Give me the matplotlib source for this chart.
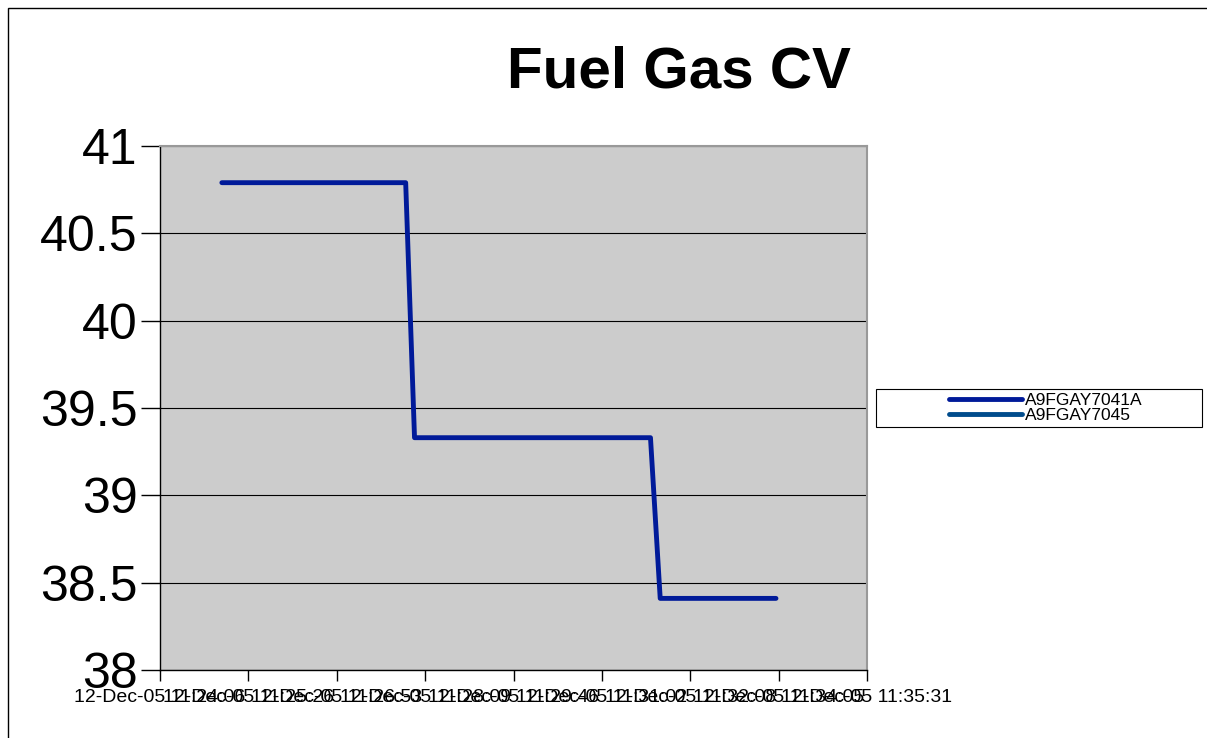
import matplotlib
matplotlib.use("Agg")
import matplotlib.pyplot as plt
from matplotlib.patches import Rectangle

plt.rcParams['font.family'] = ['Liberation Sans', 'DejaVu Sans']

# positions in category units (0 = first tick)
x_7041a = [0.70, 2.78, 2.88, 5.55, 5.66, 6.97]
y_7041a = [40.79, 40.79, 39.33, 39.33, 38.41, 38.41]
x_7045 = []
y_7045 = []
tick_labels = ["12-Dec-05 11:24:06", "12-Dec-05 11:25:26", "12-Dec-05 11:26:53",
               "12-Dec-05 11:28:09", "12-Dec-05 11:29:46", "12-Dec-05 11:31:02",
               "12-Dec-05 11:32:08", "12-Dec-05 11:34:05", "12-Dec-05 11:35:31"]
y_ticks = [38, 38.5, 39, 39.5, 40, 40.5, 41]

fig = plt.figure(figsize=(12.07, 7.38), dpi=100)
ax = fig.add_axes([160/1207, 1 - 670/738, 707/1207, 524/738])
ax.set_facecolor('#CCCCCC')

ax.plot(x_7041a, y_7041a, color='#001A99', lw=3.5, solid_capstyle='round',
        solid_joinstyle='round', label='A9FGAY7041A')
ax.plot(x_7045, y_7045, color='#004C8C', lw=3.5, solid_capstyle='round',
        label='A9FGAY7045')

ax.set_xlim(0, 8)
ax.set_ylim(38, 41)
ax.set_xticks(range(9))
ax.set_xticklabels(tick_labels, fontsize=14)
ax.set_yticks(y_ticks)
ax.set_yticklabels(['38', '38.5', '39', '39.5', '40', '40.5', '41'], fontsize=36)
ax.yaxis.grid(True, color='black', lw=0.8)
ax.set_axisbelow(True)
ax.tick_params(axis='y', length=14, width=1, pad=2)
ax.tick_params(axis='x', length=8, width=1, pad=6)

for s in ['top', 'right']:
    ax.spines[s].set_color('#999999')
    ax.spines[s].set_linewidth(1.5)
for s in ['left', 'bottom']:
    ax.spines[s].set_color('black')
    ax.spines[s].set_linewidth(1)

fig.text(679/1207, 1 - 72/738, 'Fuel Gas CV', fontsize=42, fontweight='bold',
         ha='center', va='center')

# legend box
fig.patches.append(Rectangle((876/1207, 1 - 427/738), 326/1207, 38/738,
                             transform=fig.transFigure, fill=False,
                             edgecolor='black', lw=0.8))
fig.legend(loc='center', bbox_to_anchor=(1046/1207, 1 - 408/738),
           fontsize=12.5, frameon=False, handlelength=4.2, handletextpad=0.15,
           labelspacing=0.0, borderpad=0, borderaxespad=0)

# chart area border
fig.patches.append(Rectangle((8/1207, -0.1), 2, 1.1 - 8/738,
                             transform=fig.transFigure, fill=False,
                             edgecolor='black', lw=1))

fig.savefig('out.png', dpi=100)
